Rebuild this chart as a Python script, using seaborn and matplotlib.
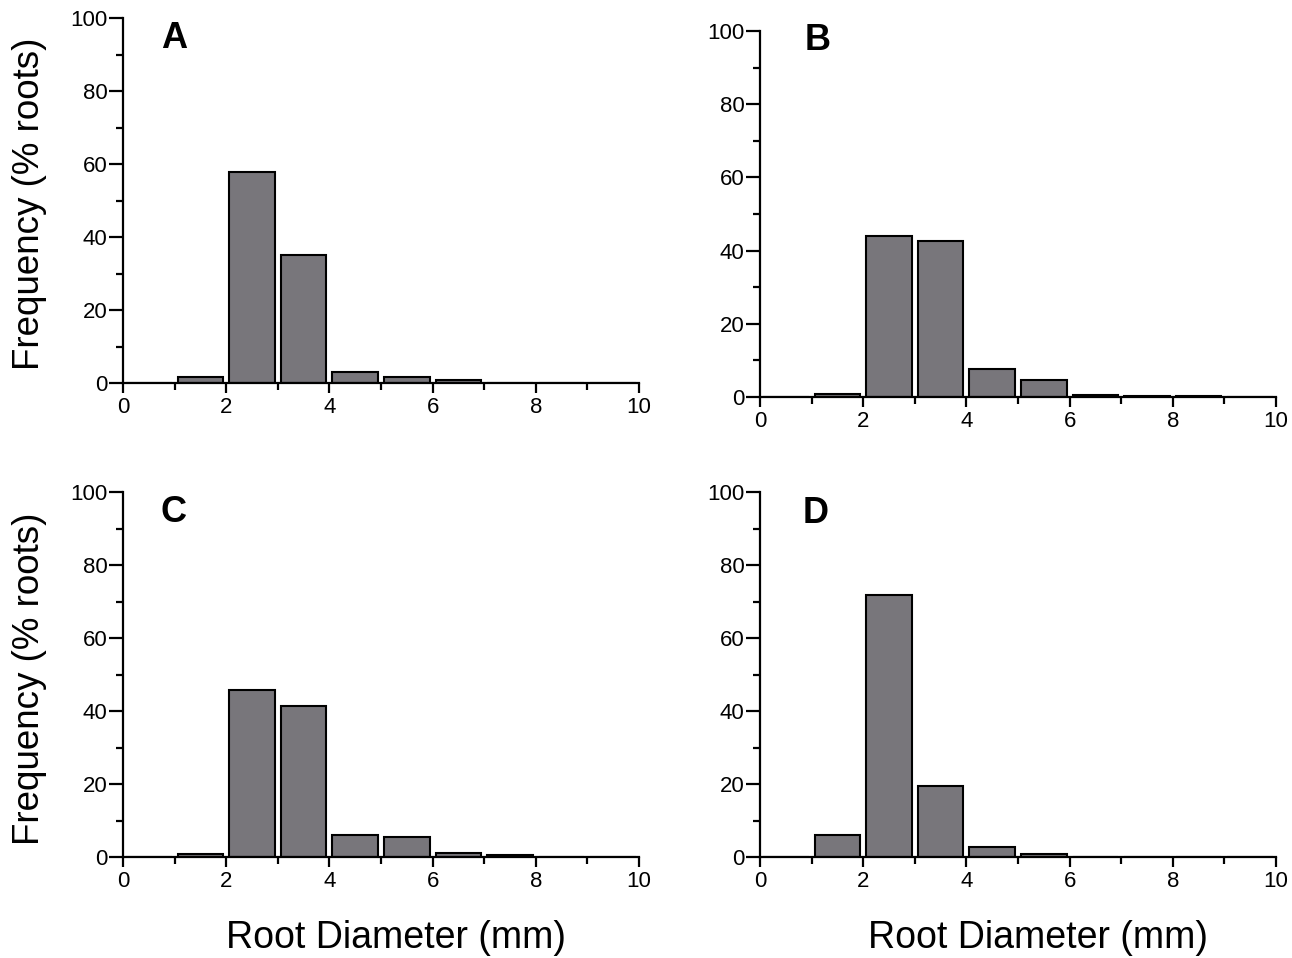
import numpy as np
import pandas as pd
import matplotlib
matplotlib.use("Agg")
import matplotlib.pyplot as plt
from matplotlib.ticker import MultipleLocator
import seaborn as sns

sns.set_style("white")
plt.rcParams['font.family'] = ['Liberation Sans', 'DejaVu Sans']
plt.rcParams['text.color'] = 'black'
plt.rcParams['xtick.color'] = 'black'
plt.rcParams['ytick.color'] = 'black'
plt.rcParams['axes.labelcolor'] = 'black'

# Data: bin lower edges (mm) and frequency (% roots) per panel
bin_edges = list(range(0, 11))
bin_lefts = [1, 2, 3, 4, 5, 6, 7, 8]
freq_A = [1.7, 57.8, 35.1, 3.1, 1.6, 0.8, 0.0, 0.0]
freq_B = [0.8, 43.9, 42.7, 7.6, 4.6, 0.6, 0.4, 0.2]
freq_C = [0.8, 45.7, 41.5, 6.0, 5.4, 1.1, 0.5, 0.0]
freq_D = [6.1, 71.8, 19.5, 2.7, 0.7, 0.0, 0.0, 0.0]
panel_labels = ["A", "B", "C", "D"]
x_ticks = [0, 2, 4, 6, 8, 10]
y_ticks = [0, 20, 40, 60, 80, 100]
ylabel = "Frequency (% roots)"
xlabel = "Root Diameter (mm)"

bar_color = "#78767b"

fig = plt.figure(figsize=(12.92, 9.58), dpi=100)
W, H = 1292, 958
# pixel boxes: left, top, right, bottom
boxes = [(123, 18, 639, 383), (760, 31, 1276, 397),
         (123, 492, 639, 857), (760, 492, 1276, 857)]
letter_pos = [(1.0, 94.5), (1.12, 97.5), (0.97, 94.5), (1.07, 94.0)]
datasets = [freq_A, freq_B, freq_C, freq_D]

for (l, t, r, b), lab, (lx, ly), freq in zip(boxes, panel_labels, letter_pos, datasets):
    ax = fig.add_axes([l / W, 1 - b / H, (r - l) / W, (b - t) / H])
    df = pd.DataFrame({"diam": [x + 0.5 for x in bin_lefts], "pct": freq})
    sns.histplot(data=df, x="diam", weights="pct", bins=bin_edges, shrink=0.88,
                 color=bar_color, alpha=1, edgecolor="black", linewidth=1.5, ax=ax)
    ax.set_xlim(0, 10)
    ax.set_ylim(0, 100)
    ax.set_xlabel("")
    ax.set_ylabel("")
    for s in ["top", "right"]:
        ax.spines[s].set_visible(False)
    for s in ["left", "bottom"]:
        ax.spines[s].set_linewidth(1.6)
        ax.spines[s].set_color("black")
    ax.set_xticks(x_ticks)
    ax.set_yticks(y_ticks)
    ax.xaxis.set_minor_locator(MultipleLocator(1))
    ax.yaxis.set_minor_locator(MultipleLocator(10))
    ax.tick_params(axis="x", which="major", direction="out", length=7, width=1.6,
                   labelsize=16, pad=3, bottom=True)
    ax.tick_params(axis="x", which="minor", direction="out", length=5, width=1.6, bottom=True)
    ax.tick_params(axis="y", which="major", direction="out", length=10, width=1.6,
                   labelsize=16, pad=1, left=True)
    ax.tick_params(axis="y", which="minor", direction="out", length=5, width=1.6, left=True)
    ax.patch.set_alpha(0)
    ax.text(lx, ly, lab, fontsize=26, fontweight="bold", ha="center", va="center",
            color="black")

fig.text(30 / W, 1 - 204 / H, ylabel, rotation=90, ha="center", va="center", fontsize=26.5)
fig.text(30 / W, 1 - 679 / H, ylabel, rotation=90, ha="center", va="center", fontsize=26.5)
fig.text(396 / W, 1 - 938 / H, xlabel, ha="center", va="center", fontsize=27)
fig.text(1038 / W, 1 - 938 / H, xlabel, ha="center", va="center", fontsize=27)

fig.savefig("out.png", dpi=100, facecolor="white")
